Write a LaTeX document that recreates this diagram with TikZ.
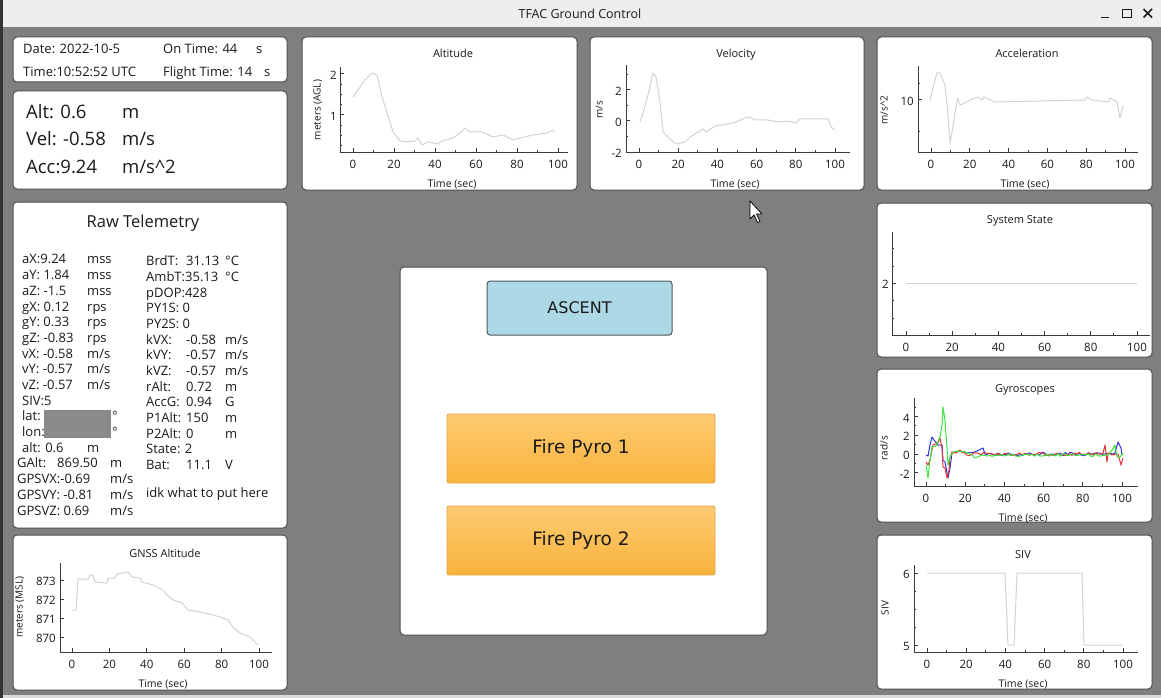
\documentclass[tikz,border=0pt]{standalone}
\usepackage{fontspec}
\setmainfont{Open Sans}
\newfontfamily\btnfont{DejaVu Sans}
\definecolor{wingray}{HTML}{7F7F7F}
\definecolor{titlebar}{HTML}{EEEEEE}
\definecolor{panelline}{HTML}{4E4E4E}
\definecolor{textdark}{HTML}{1A1A1A}
\definecolor{axisgray}{HTML}{3A3A3A}
\definecolor{tracegray}{HTML}{D2D2D2}
\definecolor{hidegray}{HTML}{8A8A8A}
\definecolor{ascentblue}{HTML}{ADD8E6}
\definecolor{ascentline}{HTML}{4F5A5E}
\definecolor{pyrotop}{HTML}{FDCB72}
\definecolor{pyrobot}{HTML}{F9B33C}
\definecolor{pyroline}{HTML}{E2A548}
\definecolor{gyrored}{HTML}{E23434}
\definecolor{gyrogreen}{HTML}{3CE63C}
\definecolor{gyroblue}{HTML}{3434E0}
\begin{document}
\begin{tikzpicture}[x=1pt, y=-1pt,
    panel/.style={draw=panelline, fill=white, line width=1pt, rounded corners=4pt},
    telem/.style={anchor=mid west, inner sep=0pt, yshift=-3pt, text=textdark, font=\fontsize{13}{15}\selectfont},
    bigtelem/.style={telem, font=\fontsize{18.5}{21}\selectfont},
    plottitle/.style={anchor=mid, inner sep=0pt, yshift=-3pt, text=textdark, font=\fontsize{11}{13}\selectfont},
    xlbl/.style={plottitle, font=\fontsize{10.5}{12}\selectfont},
    ylbl/.style={anchor=mid, inner sep=0pt, rotate=90, text=textdark, font=\fontsize{10}{12}\selectfont},
    xticklbl/.style={anchor=mid, inner sep=0pt, yshift=-3pt, text=textdark, font=\fontsize{11.5}{13}\selectfont},
    yticklbl/.style={xticklbl, anchor=mid east},
    axisline/.style={draw=axisgray, line width=1pt},
    trace/.style={draw=tracegray, line width=1pt, line join=round},
    gyro/.style={line width=1pt, line join=round},
    winbtn/.style={draw=textdark, line width=1.6pt},
    statebtn/.style={draw=ascentline, fill=ascentblue, line width=1pt, rounded corners=3pt, inner sep=0pt, text=textdark, font=\btnfont\fontsize{16}{18}\selectfont},
    pyrobtn/.style={draw=pyroline, top color=pyrotop, bottom color=pyrobot, line width=0.8pt, rounded corners=2pt, inner sep=0pt, text=textdark, minimum width=268, minimum height=69, font=\btnfont\fontsize{18.5}{21}\selectfont}]
  \useasboundingbox (0,0) rectangle (1161,698);
  % window
  \fill[wingray] (0,0) rectangle (1161,698);
  \fill[titlebar] (0,0) rectangle (1161,27);
  \fill[titlebar!92!black] (0,695) rectangle (1161,698);
  \fill[black!80] (0,0) rectangle (2.5,698);
  \node[plottitle, font=\fontsize{12.5}{14}\selectfont] (wintitle) at (580,13) {TFAC Ground Control};
  \draw[winbtn] (1101,17.5) -- (1109,17.5);
  \draw[winbtn, line width=1.4pt] (1122.5,9.5) rectangle (1131.5,17.5);
  \draw[winbtn] (1143.5,9) -- (1152,17.5) (1152,9) -- (1143.5,17.5);

  % date and time
  \draw[panel] (13,37) rectangle (287,82);
  \node[telem] (date) at (23,48) {Date: 2022-10-5};
  \node[telem] (ontime) at (163,48) {On Time: 44};
  \node[telem] (ontimeu) at (256,48) {s};
  \node[telem] (utc) at (23,71) {Time:10:52:52 UTC};
  \node[telem] (flight) at (163,71) {Flight Time: 14};
  \node[telem] (flightu) at (264,71) {s};

  % alt, vel, acc
  \draw[panel] (13,91) rectangle (287,189);
  \node[bigtelem] (alt) at (26,113) {Alt: 0.6};
  \node[bigtelem] (altu) at (122,113) {m};
  \node[bigtelem] (vel) at (26,140) {Vel: -0.58};
  \node[bigtelem] (velu) at (122,140) {m/s};
  \node[bigtelem] (acc) at (26,168) {Acc:9.24};
  \node[bigtelem] (accu) at (122,168) {m/s\^{}2};

  % raw telemetry
  \draw[panel] (13,202) rectangle (287,528);
  \node[plottitle, font=\fontsize{16.5}{19}\selectfont] (rawtitle) at (143,222) {Raw Telemetry};
  \foreach \i/\lab/\unit in {1/{aX:9.24}/mss, 2/{aY: 1.84}/mss, 3/{aZ: -1.5}/mss, 4/{gX: 0.12}/rps,
      5/{gY: 0.33}/rps, 6/{gZ: -0.83}/rps, 7/{vX: -0.58}/{m/s}, 8/{vY: -0.57}/{m/s},
      9/{vZ: -0.57}/{m/s}, 13/{alt: 0.6}/m}
  {
    \node[telem] (lrow\i) at (22,{258.3+15.69*(\i-1)}) {\lab};
    \node[telem] (lunit\i) at (87,{258.3+15.69*(\i-1)}) {\unit};
  }
  \node[telem] (lrow10) at (22,399.5) {SIV:5};
  \node[telem] (lrow11) at (22,415.2) {lat:};
  \node[telem] (lrow12) at (22,430.9) {lon:};
  \fill[hidegray] (44,410) rectangle (111,438);
  \node[telem] (latdeg) at (112,415.2) {°};
  \node[telem] (londeg) at (112,430.9) {°};
  \foreach \i/\lab/\unit in {14/{GAlt:}/m, 15/{GPSVX:-0.69}/{m/s}, 16/{GPSVY: -0.81}/{m/s}, 17/{GPSVZ: 0.69}/{m/s}}
  {
    \node[telem] (lrow\i) at (17,{258.3+15.69*(\i-1)}) {\lab};
    \node[telem] (lunit\i) at (110,{258.3+15.69*(\i-1)}) {\unit};
  }
  \node[telem] (galtval) at (57,462.3) {869.50};
  \foreach \i/\lab in {1/BrdT:, 2/AmbT:35.13, 3/pDOP:428, 4/PY1S: 0, 5/PY2S: 0, 6/kVX:, 7/kVY:,
      8/kVZ:, 9/rAlt:, 10/AccG:, 11/P1Alt:, 12/P2Alt:, 13/State: 2, 14/Bat:}
    \node[telem] (rrow\i) at (146,{260+15.69*(\i-1)}) {\lab};
  \foreach \i/\val in {1/31.13, 6/-0.58, 7/-0.57, 8/-0.57, 9/0.72, 10/0.94, 11/150, 12/0, 14/11.1}
    \node[telem] (rval\i) at (186,{260+15.69*(\i-1)}) {\val};
  \foreach \i/\unit in {1/°C, 2/°C, 6/{m/s}, 7/{m/s}, 8/{m/s}, 9/m, 10/G, 11/m, 12/m, 14/V}
    \node[telem] (runit\i) at (225,{260+15.69*(\i-1)}) {\unit};
  \node[telem] (idk) at (146,491.7) {idk what to put here};

  % gnss altitude
  \draw[panel] (13,535) rectangle (287,690);
  \node[plottitle] (gnsstitle) at (165,552) {GNSS Altitude};
  \draw[axisline] (60,563) -- (60,652) -- (272,652);
  \foreach \t in {0,20,...,100} {
    \draw[axisline] ({72+1.87*\t},652) -- ++(0,-4);
    \node[xticklbl] (gnssx\t) at ({72+1.87*\t},663) {\t};
  }
  \foreach \v in {870,...,873} {
    \draw[axisline] (60,{580+19*(873-\v)}) -- ++(4,0);
    \node[yticklbl] (gnssy\v) at (56,{580+19*(873-\v)}) {\v};
  }
  \node[xlbl] (gnssxl) at (163,682) {Time (sec)};
  \node[ylbl] (gnssyl) at (20,607) {meters (MSL)};
  \draw[trace] (72,610) -- (76,610) -- (78,579) -- (88,579) -- (90,575) -- (93,575) -- (95,582)
    -- (107,583) -- (108,578) -- (115,578) -- (117,574) -- (128,572) -- (132,577) -- (140,578)
    -- (142,582) -- (153,585) -- (163,590) -- (167,595) -- (173,600) -- (182,603) -- (188,610)
    -- (200,612) -- (213,615) -- (220,617) -- (228,620) -- (233,627) -- (240,633) -- (250,637)
    -- (258,645);

  % altitude
  \draw[panel] (302,37) rectangle (577,190);
  \node[plottitle] (alttitle) at (453,52) {Altitude};
  \draw[axisline] (340,67) -- (340,152) -- (568,152);
  \foreach \t in {0,20,...,100} {
    \draw[axisline] ({353+2.05*\t},152) -- ++(0,-4);
    \node[xticklbl] (altx\t) at ({353+2.05*\t},163) {\t};
  }
  \foreach \t in {10,30,...,90} \draw[axisline] ({353+2.05*\t},152) -- ++(0,-2);
  \foreach \v in {1,2} {
    \draw[axisline] (340,{156-41*\v}) -- ++(4,0);
    \node[yticklbl] (alty\v) at (337,{156-41*\v}) {\v};
  }
  \foreach \v in {0.25,0.5,0.75,1.25,1.5,1.75} \draw[axisline] (340,{156-41*\v}) -- ++(2,0);
  \node[xlbl] (altxl) at (452,182) {Time (sec)};
  \node[ylbl] (altyl) at (318,110) {meters (AGL)};
  \draw[trace] (353,97) -- (358,90) -- (365,80) -- (372,73) -- (377,75) -- (383,100) -- (390,122)
    -- (393,132) -- (400,141) -- (408,142) -- (415,141) -- (418,138) -- (422,145) -- (428,142)
    -- (437,144) -- (442,141) -- (453,138) -- (460,133) -- (465,128) -- (470,132) -- (482,132)
    -- (493,137) -- (503,135) -- (513,140) -- (520,138) -- (533,135) -- (547,133) -- (553,130)
    -- (555,132);

  % velocity
  \draw[panel] (590,37) rectangle (864,190);
  \node[plottitle] (veltitle) at (736,52) {Velocity};
  \draw[axisline] (626,65) -- (626,152) -- (850,152);
  \foreach \t in {0,20,...,100} {
    \draw[axisline] ({639+1.96*\t},152) -- ++(0,-4);
    \node[xticklbl] (velx\t) at ({639+1.96*\t},163) {\t};
  }
  \foreach \t in {10,30,...,90} \draw[axisline] ({639+1.96*\t},152) -- ++(0,-2);
  \foreach \v in {-2,0,2} {
    \draw[axisline] (626,{121-15.5*\v}) -- ++(4,0);
    \node[yticklbl] (vely\v) at (622,{121-15.5*\v}) {\v};
  }
  \foreach \v in {-1,1,3} \draw[axisline] (626,{121-15.5*\v}) -- ++(2,0);
  \node[xlbl] (velxl) at (735,182) {Time (sec)};
  \node[ylbl] (velyl) at (600,110) {m/s};
  \draw[trace] (640,122) -- (643,113) -- (648,95) -- (653,73) -- (656,77) -- (660,102) -- (663,132)
    -- (671,140) -- (676,144) -- (685,142) -- (690,137) -- (698,132) -- (703,129) -- (706,132)
    -- (715,126) -- (728,124) -- (736,122) -- (745,118) -- (750,117) -- (755,120) -- (768,120)
    -- (778,122) -- (788,121) -- (796,123) -- (800,119) -- (828,119) -- (831,127) -- (835,130);

  % acceleration
  \draw[panel] (877,37) rectangle (1152,190);
  \node[plottitle] (acctitle) at (1027,52) {Acceleration};
  \draw[axisline] (918,66) -- (918,152) -- (1138,152);
  \foreach \t in {0,20,...,100} {
    \draw[axisline] ({931+1.94*\t},152) -- ++(0,-4);
    \node[xticklbl] (accx\t) at ({931+1.94*\t},163) {\t};
  }
  \foreach \t in {10,30,...,90} \draw[axisline] ({931+1.94*\t},152) -- ++(0,-2);
  \draw[axisline] (918,100) -- ++(4,0);
  \node[yticklbl] (accy10) at (914,100) {10};
  \foreach \y in {84,132} \draw[axisline] (918,\y) -- ++(2,0);
  \node[xlbl] (accxl) at (1025,182) {Time (sec)};
  \node[ylbl] (accyl) at (885,110) {m/s\^{}2};
  \draw[trace] (930,100) -- (935,80) -- (937,73) -- (940,73) -- (945,85) -- (948,115) -- (950,143)
    -- (952,132) -- (955,112) -- (958,98) -- (960,105) -- (965,103) -- (970,100) -- (978,97)
    -- (982,100) -- (984,97) -- (995,102) -- (1085,100) -- (1087,97) -- (1092,100) -- (1108,102)
    -- (1110,98) -- (1117,102) -- (1120,118) -- (1123,105);

  % system state
  \draw[panel] (877,203) rectangle (1152,357);
  \node[plottitle] (statetitle) at (1020,218) {System State};
  \draw[axisline] (892,232) -- (892,335) -- (1150,335);
  \foreach \t in {0,20,...,100} {
    \draw[axisline] ({906+2.31*\t},335) -- ++(0,-4);
    \node[xticklbl] (statex\t) at ({906+2.31*\t},346) {\t};
  }
  \foreach \t in {10,30,...,90} \draw[axisline] ({906+2.31*\t},335) -- ++(0,-2);
  \draw[axisline] (892,283) -- ++(4,0);
  \node[yticklbl] (statey2) at (889,283) {2};
  \foreach \y in {248,266,300,318} \draw[axisline] (892,\y) -- ++(2,0);
  \draw[trace] (906,283) -- (1137,283);

  % gyroscopes
  \draw[panel] (877,369) rectangle (1152,522);
  \node[plottitle] (gyrotitle) at (1025,387) {Gyroscopes};
  \draw[axisline] (914,398) -- (914,486) -- (1138,486);
  \foreach \t in {0,20,...,100} {
    \draw[axisline] ({926+1.96*\t},486) -- ++(0,-4);
    \node[xticklbl] (gyrox\t) at ({926+1.96*\t},497) {\t};
  }
  \foreach \t in {10,30,...,90} \draw[axisline] ({926+1.96*\t},486) -- ++(0,-2);
  \foreach \v in {-2,0,2,4} {
    \draw[axisline] (914,{454-9.4*\v}) -- ++(4,0);
    \node[yticklbl] (gyroy\v) at (910,{454-9.4*\v}) {\v};
  }
  \foreach \v in {-1,1,3,5} \draw[axisline] (914,{454-9.4*\v}) -- ++(2,0);
  \node[xlbl] (gyroxl) at (1023,516) {Time (sec)};
  \node[ylbl] (gyroyl) at (885,448) {rad/s};
  \pgfmathsetseed{7}
  \draw[gyro, gyroblue] (926,455) -- (928,456) -- (930,445) -- (932,437) -- (934,440) -- (938,445)
    -- (942,445) -- (943,460) -- (945,462) -- (948,478) -- (950,468) -- (952,453) -- (960,451)
    -- (968,453) -- (975,452) -- (983,448) -- (985,454)
    -- plot[domain=987:1115, samples=55] (\x,{454+1.6*rand})
    -- (1118,442) -- (1121,448) -- (1122,455);
  \draw[gyro, gyrored] (926,462) -- (928,465) -- (930,460) -- (933,445) -- (938,443) -- (940,438)
    -- (942,448) -- (943,467) -- (945,468) -- (947,478) -- (949,470) -- (950,458) -- (952,452)
    -- (956,453) -- (960,450)
    -- plot[domain=962:1103, samples=60] (\x,{454+1.6*rand})
    -- (1105,445) -- (1107,462) -- (1108,453) -- (1112,455) -- (1118,454) -- (1121,465) -- (1123,458);
  \draw[gyro, gyrogreen] (926,465) -- (928,478) -- (930,460) -- (932,447) -- (936,446) -- (940,437)
    -- (942,425) -- (943,407) -- (945,420) -- (947,448) -- (948,465) -- (950,457) -- (953,452)
    -- (958,451) -- (965,452) -- (972,455) -- (975,458) -- (982,455) -- (988,456)
    -- plot[domain=990:1105, samples=50] (\x,{455+1.4*rand})
    -- (1108,455) -- (1112,450) -- (1115,445) -- (1117,457) -- (1120,457) -- (1123,453);

  % siv
  \draw[panel] (877,535) rectangle (1152,689);
  \node[plottitle] (sivtitle) at (1023,553) {SIV};
  \draw[axisline] (914,565) -- (914,652) -- (1138,652);
  \foreach \t in {0,20,...,100} {
    \draw[axisline] ({927+1.96*\t},652) -- ++(0,-4);
    \node[xticklbl] (sivx\t) at ({927+1.96*\t},663) {\t};
  }
  \foreach \t in {10,30,...,90} \draw[axisline] ({927+1.96*\t},652) -- ++(0,-2);
  \foreach \v in {5,6} {
    \draw[axisline] (914,{645-72*(\v-5)}) -- ++(4,0);
    \node[yticklbl] (sivy\v) at (910,{645-72*(\v-5)}) {\v};
  }
  \foreach \y in {591,609,627} \draw[axisline] (914,\y) -- ++(2,0);
  \node[xlbl] (sivxl) at (1023,682) {Time (sec)};
  \node[ylbl] (sivyl) at (886,608) {SIV};
  \draw[trace] (927,573) -- (1005,573) -- (1008,645) -- (1014,645) -- (1017,573) -- (1082,573)
    -- (1084,645) -- (1123,645);

  % control panel
  \draw[panel] (400,267) rectangle (767,635);
  \node[statebtn, minimum width=185, minimum height=54] (ascent) at (579.5,308) {ASCENT};
  \node[pyrobtn] (pyro1) at (581,448.5) {Fire Pyro 1};
  \node[pyrobtn] (pyro2) at (581,540.5) {Fire Pyro 2};

  % mouse pointer
  \filldraw[fill=white, draw=black, line width=0.8pt, line join=round] (750,201) -- ++(0,18)
    -- ++(4,-4) -- ++(3.5,7.5) -- ++(2.5,-1) -- ++(-3.5,-7.5) -- ++(5.5,0) -- cycle;
\end{tikzpicture}
\end{document}
